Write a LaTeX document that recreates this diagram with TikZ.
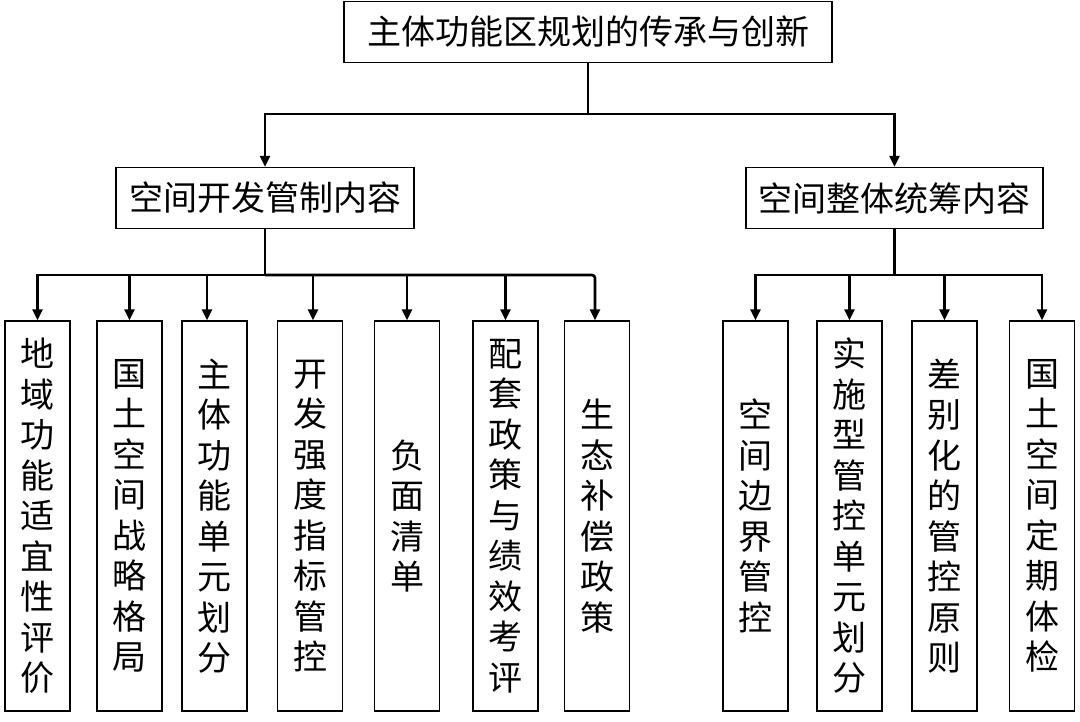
\documentclass[tikz,border=0pt]{standalone}
\usepackage{fontspec}
\newfontfamily\cjk{Noto Sans CJK SC}
\usetikzlibrary{arrows.meta}
\begin{document}
\begin{tikzpicture}[x=1pt,y=-1pt,
  box/.style={draw=black, line width=1.2pt, rectangle, inner sep=0pt, align=center,
    font=\cjk\fontsize{34}{40.5}\selectfont},
  headbox/.style={box, minimum height=61pt},
  leafbox/.style={box, minimum width=65pt, minimum height=390pt},
  conn/.style={draw=black, line width=2.6pt},
  arr/.style={conn, -{Triangle[width=10pt,length=11pt]}}]
\useasboundingbox (0,0) rectangle (1080,721);
% top
\node[headbox, minimum width=488pt] (top) at (588,32) {主体功能区规划的传承与创新};
\node[headbox, minimum width=298pt] (left) at (265,198) {空间开发管制内容};
\node[headbox, minimum width=297pt] (right) at (894.5,198) {空间整体统筹内容};
% leaves
\node[leafbox] (l1) at (37.5,516) {地\\域\\功\\能\\适\\宜\\性\\评\\价};
\node[leafbox] (l2) at (129.5,516) {国\\土\\空\\间\\战\\略\\格\\局};
\node[leafbox] (l3) at (214.5,516) {主\\体\\功\\能\\单\\元\\划\\分};
\node[leafbox] (l4) at (310,516) {开\\发\\强\\度\\指\\标\\管\\控};
\node[leafbox] (l5) at (407,516) {负\\面\\清\\单};
\node[leafbox] (l6) at (505.5,516) {配\\套\\政\\策\\与\\绩\\效\\考\\评};
\node[leafbox] (l7) at (597,516) {生\\态\\补\\偿\\政\\策};
\node[leafbox] (r1) at (755.5,516) {空\\间\\边\\界\\管\\控};
\node[leafbox] (r2) at (849.5,516) {实\\施\\型\\管\\控\\单\\元\\划\\分};
\node[leafbox] (r3) at (944.5,516) {差\\别\\化\\的\\管\\控\\原\\则};
\node[leafbox] (r4) at (1042,516) {国\\土\\空\\间\\定\\期\\体\\检};
% connectors
\coordinate (j0) at (588,114);
\coordinate (j1) at (265,275);
\coordinate (j2) at (894.5,275);
\draw[conn] (top.south) -- (j0);
\draw[arr] (j0) -| (left.north);
\draw[arr] (j0) -| (right.north);
\draw[conn] (left.south) -- (j1);
\draw[conn] (right.south) -- (j2);
\draw[arr] (j1) -| (l1.north);
\draw[arr] (j1) -| (l2.north);
\draw[arr] (j1) -| ([xshift=-7.5pt]l3.north);
\draw[arr] (j1) -| ([xshift=3pt]l4.north);
\draw[arr] (j1) -| (l5.north);
\draw[arr] (j1) -| (l6.north);
\draw[arr, rounded corners=3pt] (j1) -| ([xshift=-2pt]l7.north);
\draw[arr] (j2) -| (r1.north);
\draw[arr] (j2) -| (r2.north);
\draw[arr] (j2) -| (r3.north);
\draw[arr] (j2) -| (r4.north);
\end{tikzpicture}
\end{document}
